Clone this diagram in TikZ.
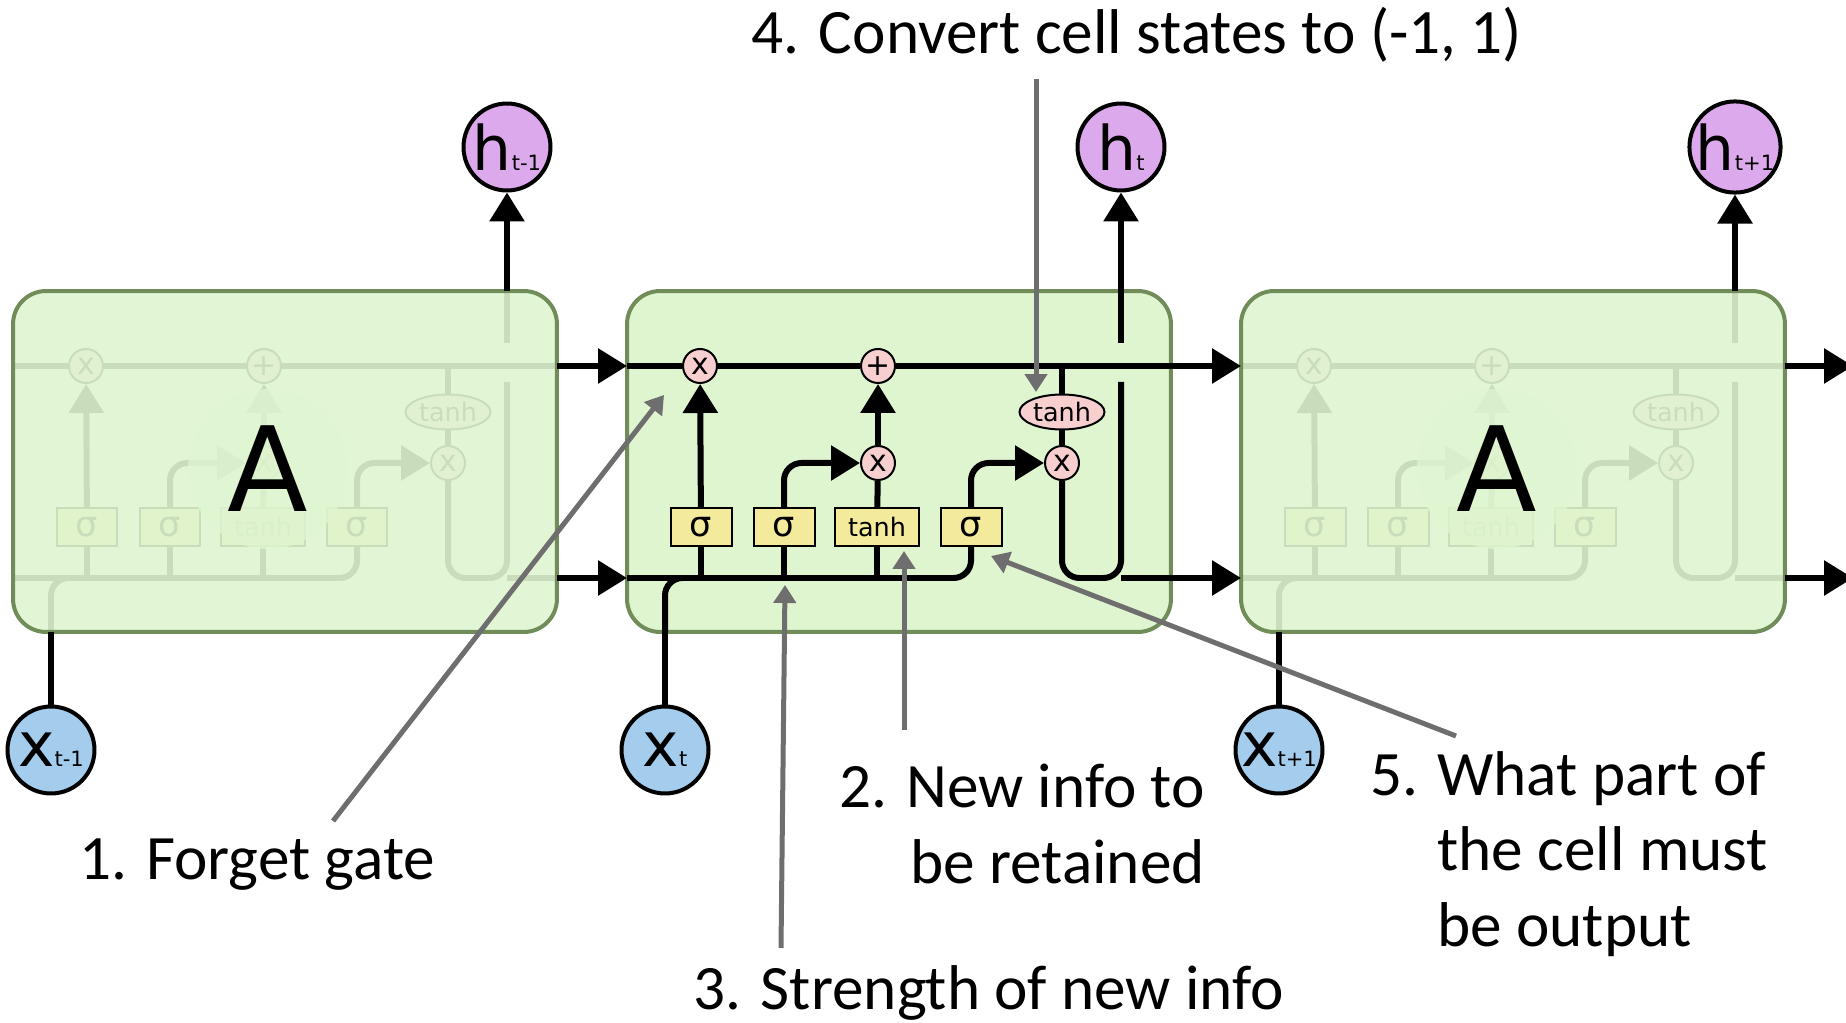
\documentclass[tikz,border=0pt]{standalone}
\usepackage{fontspec}
\setmainfont{Carlito}
\newfontfamily\dejavu{DejaVu Sans}
\usepackage{tikz}
\usetikzlibrary{shapes.geometric, arrows.meta, positioning}
\definecolor{cellgreen}{HTML}{DFF5D0}
\definecolor{edgegreen}{HTML}{6F8C59}
\definecolor{oppink}{HTML}{F7CFCF}
\definecolor{gateyellow}{HTML}{F4EA9C}
\definecolor{hpurple}{HTML}{DCAAEC}
\definecolor{xblue}{HTML}{A4CCEC}
\definecolor{notegray}{HTML}{6E6E6E}
\tikzstyle{cellbox} = [rectangle, rounded corners=0.66cm, minimum width=10.88cm, minimum height=6.82cm, draw=edgegreen, line width=0.08cm, fill=cellgreen]
\tikzstyle{gate} = [rectangle, minimum width=1.22cm, minimum height=0.76cm, inner sep=0pt, draw=black, line width=0.04cm, fill=gateyellow, font=\dejavu\fontsize{20}{20}\selectfont]
\tikzstyle{pointop} = [circle, minimum size=0.68cm, inner sep=0pt, draw=black, line width=0.04cm, fill=oppink, font=\dejavu\fontsize{17}{17}\selectfont]
\tikzstyle{squash} = [ellipse, minimum width=1.7cm, minimum height=0.7cm, inner sep=0pt, draw=black, line width=0.04cm, fill=oppink, font=\dejavu\fontsize{14.5}{14.5}\selectfont]
\tikzstyle{hstate} = [circle, minimum size=1.74cm, inner sep=0pt, draw=black, line width=0.08cm, fill=hpurple, font=\dejavu]
\tikzstyle{xinput} = [hstate, fill=xblue]
\tikzstyle{bigletter} = [circle, minimum size=3.2cm, inner sep=0pt, fill=cellgreen, fill opacity=0.75, text opacity=1, font=\dejavu\fontsize{67}{67}\selectfont]
\tikzstyle{wire} = [line width=0.12cm, rounded corners=0.35cm]
\tikzstyle{arrow} = [wire, -{Triangle[width=0.68cm, length=0.58cm]}]
\tikzstyle{notearrow} = [draw=notegray, line width=0.1cm, -{Triangle[width=0.44cm, length=0.36cm]}]
\tikzstyle{notetext} = [font=\fontsize{36}{43}\selectfont, inner sep=0pt]

\newcommand{\statelabel}[2]{{\fontsize{35}{35}\selectfont #1}{\fontsize{12}{12}\selectfont #2}}

% one LSTM cell: #1 = name prefix, #2 = horizontal shift
\newcommand{\lstmcell}[2]{%
\begin{scope}[shift={(#2,0)}]
\coordinate (#1cin) at (627,366);
\coordinate (#1cout) at (1171,366);
\coordinate (#1hin) at (627,578);
\coordinate (#1hout) at (1171,578);
\coordinate (#1xin) at (665,632);
\coordinate (#1hup) at (1121,291);
\coordinate (#1hhigh) at (1121,343);
\coordinate (#1hlow) at (1121,382);
\coordinate (#1hturn) at (1121,578);
\node (#1fx) [pointop] at (700,366) {x};
\node (#1add) [pointop] at (878,366) {+};
\node (#1ix) [pointop] at (878,463) {x};
\node (#1ox) [pointop] at (1062,463) {x};
\node (#1th) [squash] at (1062,412) {tanh};
\node (#1fg) [gate] at (701,527) {σ};
\node (#1ig) [gate] at (784,527) {σ};
\node (#1cg) [gate, minimum width=1.68cm, font=\dejavu\fontsize{14.5}{14.5}\selectfont] at (877,527) {tanh};
\node (#1og) [gate] at (971,527) {σ};
\draw [wire] (#1cin) -- (#1fx);
\draw [wire] (#1fx) -- (#1add);
\draw [wire] (#1add) -- (#1cout);
\draw [wire] (#1hin) -| (#1og);
\draw [wire] (#1xin) |- (#1fg |- #1hin);
\draw [wire] (#1fg) -- (#1fg |- #1hin);
\draw [wire] (#1ig) -- (#1ig |- #1hin);
\draw [wire] (#1cg) -- (#1cg |- #1hin);
\draw [arrow] (#1fg) -- (#1fx);
\draw [arrow] (#1ig) |- (#1ix);
\draw [wire] (#1cg) -- (#1ix);
\draw [arrow] (#1ix) -- (#1add);
\draw [arrow] (#1og) |- (#1ox);
\draw [wire] (#1th |- #1cin) -- (#1th);
\draw [wire] (#1th) -- (#1ox);
\draw [wire] (#1ox) |- (#1hturn) -- (#1hlow);
\draw [wire] (#1hturn) -- (#1hout);
\draw [wire] (#1hhigh) -- (#1hup);
\end{scope}}

\begin{document}
\begin{tikzpicture}[x=0.02cm, y=-0.02cm]
\useasboundingbox (0,0) rectangle (1846,1023);
\clip (0,0) rectangle (1846,1023);

% Cells
\lstmcell{l}{-614}
\lstmcell{r}{614}
\node (lbox) [cellbox, fill opacity=0.9] at (285,461.5) {};
\node (rbox) [cellbox, fill opacity=0.9] at (1513,461.5) {};
\node (la) [bigletter] at (268,469) {A};
\node (ra) [bigletter] at (1497,469) {A};
\node (box) [cellbox] at (899,461.5) {};
\lstmcell{}{0}

% States
\node (hl) [hstate] at (507,147) {\statelabel{h}{t-1}};
\node (hc) [hstate] at (1121,147) {\statelabel{h}{t}};
\node (hr) [hstate] at (1735,147) {\statelabel{h}{t+1}};
\node (xl) [xinput] at (51,750) {\statelabel{x}{t-1}};
\node (xc) [xinput] at (665,750) {\statelabel{x}{t}};
\node (xr) [xinput] at (1279,750) {\statelabel{x}{t+1}};
\coordinate (cend) at (1853,366);
\coordinate (hend) at (1853,578);

% Arrows
\draw [arrow] (lhup) -- (hl);
\draw [arrow] (hup) -- (hc);
\draw [arrow] (rhup) -- (hr);
\draw [wire] (xl) -- (lxin);
\draw [wire] (xc) -- (xin);
\draw [wire] (xr) -- (rxin);
\draw [arrow] (lcout) -- (cin);
\draw [arrow] (lhout) -- (hin);
\draw [arrow] (cout) -- (rcin);
\draw [arrow] (hout) -- (rhin);
\draw [arrow] (rcout) -- (cend);
\draw [arrow] (rhout) -- (hend);

% Notes
\node (note4) [notetext] at (1137,35) {4. Convert cell states to (-1, 1)};
\node (note1) [notetext] at (257,865) {1. Forget gate};
\node (note2) [notetext, align=right, anchor=east] at (1205,824) {2. New info to\\be retained};
\node (note3) [notetext] at (989,993) {3. Strength of new info};
\node (note5) [notetext, align=left, anchor=north west] at (1370,751) {5. What part of\\\hphantom{5. }the cell must\\\hphantom{5. }be output};
\coordinate (n1s) at (333,821);
\coordinate (n1e) at (664,395);
\coordinate (n2s) at (904,730);
\coordinate (n2e) at (904,551);
\coordinate (n3s) at (781,948);
\coordinate (n3e) at (785,585);
\coordinate (n4s) at (1036,79);
\coordinate (n4e) at (1036,392);
\coordinate (n5s) at (1456,736);
\coordinate (n5e) at (991,556);
\draw [notearrow] (n1s) -- (n1e);
\draw [notearrow] (n2s) -- (n2e);
\draw [notearrow] (n3s) -- (n3e);
\draw [notearrow] (n4s) -- (n4e);
\draw [notearrow] (n5s) -- (n5e);

\end{tikzpicture}
\end{document}
